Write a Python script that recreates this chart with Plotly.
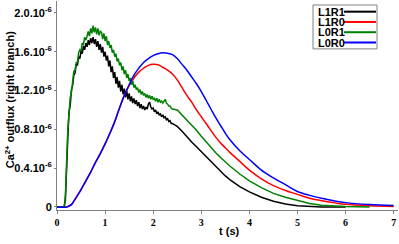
import numpy as np
import plotly.graph_objects as go

# ---------------- data (values in units of 1e-6) ----------------
SERIES = ["L1R1", "L1R0", "L0R1", "L0R0"]
COLORS = ["#000000", "#ff0000", "#008000", "#0000ff"]

# noisy early segment sampled every 0.025 s from 0.15 s to 2.40 s
NOISY_T0 = 0.15
NOISY_DT = 0.025

l1r1_noisy = [0.00, 0.08, 0.48, 0.72, 0.98, 1.05, 1.21, 1.25, 1.36, 1.38,
              1.47, 1.46, 1.55, 1.53, 1.61, 1.58, 1.66, 1.62, 1.69, 1.65,
              1.72, 1.67, 1.74, 1.69, 1.75, 1.68, 1.73, 1.65, 1.71, 1.62,
              1.68, 1.59, 1.65, 1.55, 1.60, 1.51, 1.56, 1.45, 1.51, 1.39,
              1.45, 1.33, 1.39, 1.27, 1.34, 1.23, 1.30, 1.19, 1.26, 1.16,
              1.22, 1.13, 1.20, 1.11, 1.17, 1.09, 1.14, 1.07, 1.12, 1.06,
              1.10, 1.04, 1.08, 1.02, 1.06, 1.01, 1.04, 1.00, 1.03, 1.01,
              1.06, 1.08, 1.03, 1.01, 1.02, 0.98, 1.00, 0.96, 0.98, 0.95,
              0.96, 0.93, 0.95, 0.92, 0.93, 0.90, 0.91, 0.88, 0.89, 0.86,
              0.86]

l0r1_noisy = [0.00, 0.12, 0.52, 0.80, 0.96, 1.13, 1.18, 1.29, 1.40, 1.41,
              1.49, 1.49, 1.59, 1.62, 1.61, 1.69, 1.67, 1.75, 1.72, 1.76,
              1.81, 1.76, 1.84, 1.79, 1.87, 1.80, 1.85, 1.78, 1.84, 1.77,
              1.81, 1.80, 1.73, 1.79, 1.71, 1.76, 1.67, 1.71, 1.64, 1.67,
              1.59, 1.62, 1.55, 1.58, 1.50, 1.53, 1.46, 1.49, 1.41, 1.45,
              1.37, 1.41, 1.33, 1.37, 1.30, 1.33, 1.26, 1.30, 1.23, 1.26,
              1.21, 1.23, 1.18, 1.21, 1.16, 1.19, 1.15, 1.17, 1.13, 1.16,
              1.12, 1.15, 1.11, 1.14, 1.11, 1.12, 1.09, 1.12, 1.08, 1.11,
              1.08, 1.09, 1.07, 1.09, 1.11, 1.07, 1.06, 1.04, 1.04, 1.02,
              1.01]

# smooth decay tail shared time grid
tail_t = [2.5, 2.6, 2.7, 2.8, 2.9, 3.0, 3.1, 3.2, 3.3, 3.4, 3.5, 3.6,
          3.8, 4.0, 4.25, 4.5, 4.75, 5.0, 5.25, 5.5, 5.75, 6.0, 6.5, 7.0]
l1r1_tail = [0.83, 0.78, 0.72, 0.67, 0.62, 0.57, 0.51, 0.46, 0.41, 0.37, 0.32, 0.28,
             0.21, 0.155, 0.10, 0.06, 0.03, 0.012, 0.004, 0.0, 0.0, 0.0, None, None]
l0r1_tail = [1.00, 0.95, 0.89, 0.84, 0.79, 0.73, 0.67, 0.61, 0.56, 0.51, 0.46, 0.42,
             0.34, 0.27, 0.20, 0.14, 0.10, 0.065, 0.035, 0.018, 0.008, 0.004, 0.001, None]

# smooth curves
smooth_t = [0.0, 0.2, 0.3, 0.4, 0.5, 0.6, 0.7, 0.8, 0.9, 1.0, 1.1, 1.2, 1.3, 1.4,
            1.5, 1.6, 1.7, 1.8, 1.9, 2.0, 2.1, 2.2, 2.3, 2.4] + tail_t
l0r0 = [0.0, 0.0, 0.025, 0.10, 0.18, 0.27, 0.36, 0.46, 0.55, 0.65, 0.76, 0.88, 1.02, 1.15,
        1.26, 1.36, 1.43, 1.49, 1.53, 1.56, 1.58, 1.59, 1.585, 1.57,
        1.53, 1.47, 1.41, 1.34, 1.27, 1.19, 1.10, 1.01, 0.92, 0.84, 0.76, 0.69,
        0.58, 0.49, 0.38, 0.30, 0.23, 0.16, 0.12, 0.09, 0.065, 0.045, 0.025, 0.015]
l1r0 = [0.0, 0.0, 0.025, 0.10, 0.18, 0.27, 0.36, 0.46, 0.55, 0.65, 0.76, 0.88, 1.02, 1.15,
        1.25, 1.33, 1.39, 1.43, 1.46, 1.47, 1.465, 1.44, 1.41, 1.37,
        1.31, 1.23, 1.15, 1.08, 1.00, 0.93, 0.86, 0.79, 0.72, 0.66, 0.61, 0.56,
        0.47, 0.38, 0.29, 0.22, 0.17, 0.13, 0.09, 0.065, 0.045, 0.027, 0.012, 0.006]

Y_TICKS = [0, 0.4, 0.8, 1.2, 1.6, 2.0]
Y_TICK_TEXT = ["0", "0.4.10<sup>-6</sup>", "0.8.10<sup>-6</sup>", "1.2.10<sup>-6</sup>",
               "1.6.10<sup>-6</sup>", "2.0.10<sup>-6</sup>"]
X_TICKS = [0, 1, 2, 3, 4, 5, 6, 7]

# ---------------- build ----------------
noisy_t = [round(NOISY_T0 + NOISY_DT * i, 3) for i in range(len(l1r1_noisy))]
l1r1_t = [0.0] + noisy_t + tail_t
l1r1_v = [0.0] + l1r1_noisy + l1r1_tail
l0r1_t = [0.0] + noisy_t + tail_t
l0r1_v = [0.0] + l0r1_noisy + l0r1_tail

traces = [
    (l1r1_t, l1r1_v, "linear"),
    (smooth_t, l1r0, "spline"),
    (l0r1_t, l0r1_v, "linear"),
    (smooth_t, l0r0, "spline"),
]

fig = go.Figure()
for name, color, (tx, vy, shape) in zip(SERIES, COLORS, traces):
    fig.add_trace(go.Scatter(
        x=tx, y=vy, mode="lines", name=name, showlegend=False,
        line=dict(color=color, width=1.5, shape=shape),
        connectgaps=False, hoverinfo="skip",
    ))

W, H = 399, 244
ML, MR, MT, MB = 57, 1, 1, 33.5
pw, ph = W - ML - MR, H - MT - MB

def px2paper_x(px):
    return (px - ML) / pw

def px2paper_y(py):
    return (H - MB - py) / ph

fig.update_layout(
    width=W, height=H,
    margin=dict(l=ML, r=MR, t=MT, b=MB, pad=0, autoexpand=False),
    paper_bgcolor="white", plot_bgcolor="white",
    xaxis=dict(
        range=[0, 7.09], tickvals=X_TICKS, ticktext=[str(v) for v in X_TICKS],
        showgrid=False, zeroline=False, showline=True, linecolor="#808080", linewidth=1,
        ticks="outside", ticklen=3, tickcolor="#808080", automargin=False,
        tickfont=dict(family="Liberation Serif", size=10, color="black", weight="bold"),
    ),
    yaxis=dict(
        range=[-0.031, 2.123], tickvals=Y_TICKS, ticktext=Y_TICK_TEXT,
        showgrid=False, zeroline=False, showline=True, linecolor="#808080", linewidth=1,
        ticks="outside", ticklen=2, tickcolor="#808080", automargin=False,
        tickfont=dict(family="Liberation Sans", size=11, color="black", weight="bold"),
    ),
    font=dict(family="Liberation Sans"),
)

annotations = [
    dict(text="<b>Ca<sup>2+</sup> outflux (right branch)</b>", xref="paper", yref="paper",
         x=px2paper_x(9.5), y=px2paper_y(100), textangle=-90, showarrow=False,
         xanchor="center", yanchor="middle",
         font=dict(family="Liberation Sans", size=11, color="black")),
    dict(text="<b>t (s)</b>", xref="paper", yref="paper",
         x=px2paper_x(229), y=px2paper_y(232), showarrow=False,
         xanchor="center", yanchor="middle",
         font=dict(family="Liberation Sans", size=11, color="black")),
]

shapes = [
    dict(type="rect", xref="paper", yref="paper",
         x0=px2paper_x(313), x1=px2paper_x(377), y0=px2paper_y(49), y1=px2paper_y(5),
         line=dict(color="#808080", width=1), fillcolor="white", layer="below"),
]
row_y = [11.7, 22.0, 32.3, 42.6]
for name, color, ry in zip(SERIES, COLORS, row_y):
    annotations.append(dict(
        text="<b>%s</b>" % name, xref="paper", yref="paper",
        x=px2paper_x(315.5), y=px2paper_y(ry), showarrow=False,
        xanchor="left", yanchor="middle", height=10,
        font=dict(family="Liberation Sans", size=11, color="black")))
    shapes.append(dict(type="line", xref="paper", yref="paper",
                       x0=px2paper_x(344), x1=px2paper_x(376),
                       y0=px2paper_y(ry), y1=px2paper_y(ry),
                       line=dict(color=color, width=2), layer="above"))

fig.update_layout(annotations=annotations, shapes=shapes)
fig.write_html("out.html", config={"displayModeBar": False, "staticPlot": True},
               post_script="document.body.style.margin='0px';document.body.style.overflow='hidden';")
